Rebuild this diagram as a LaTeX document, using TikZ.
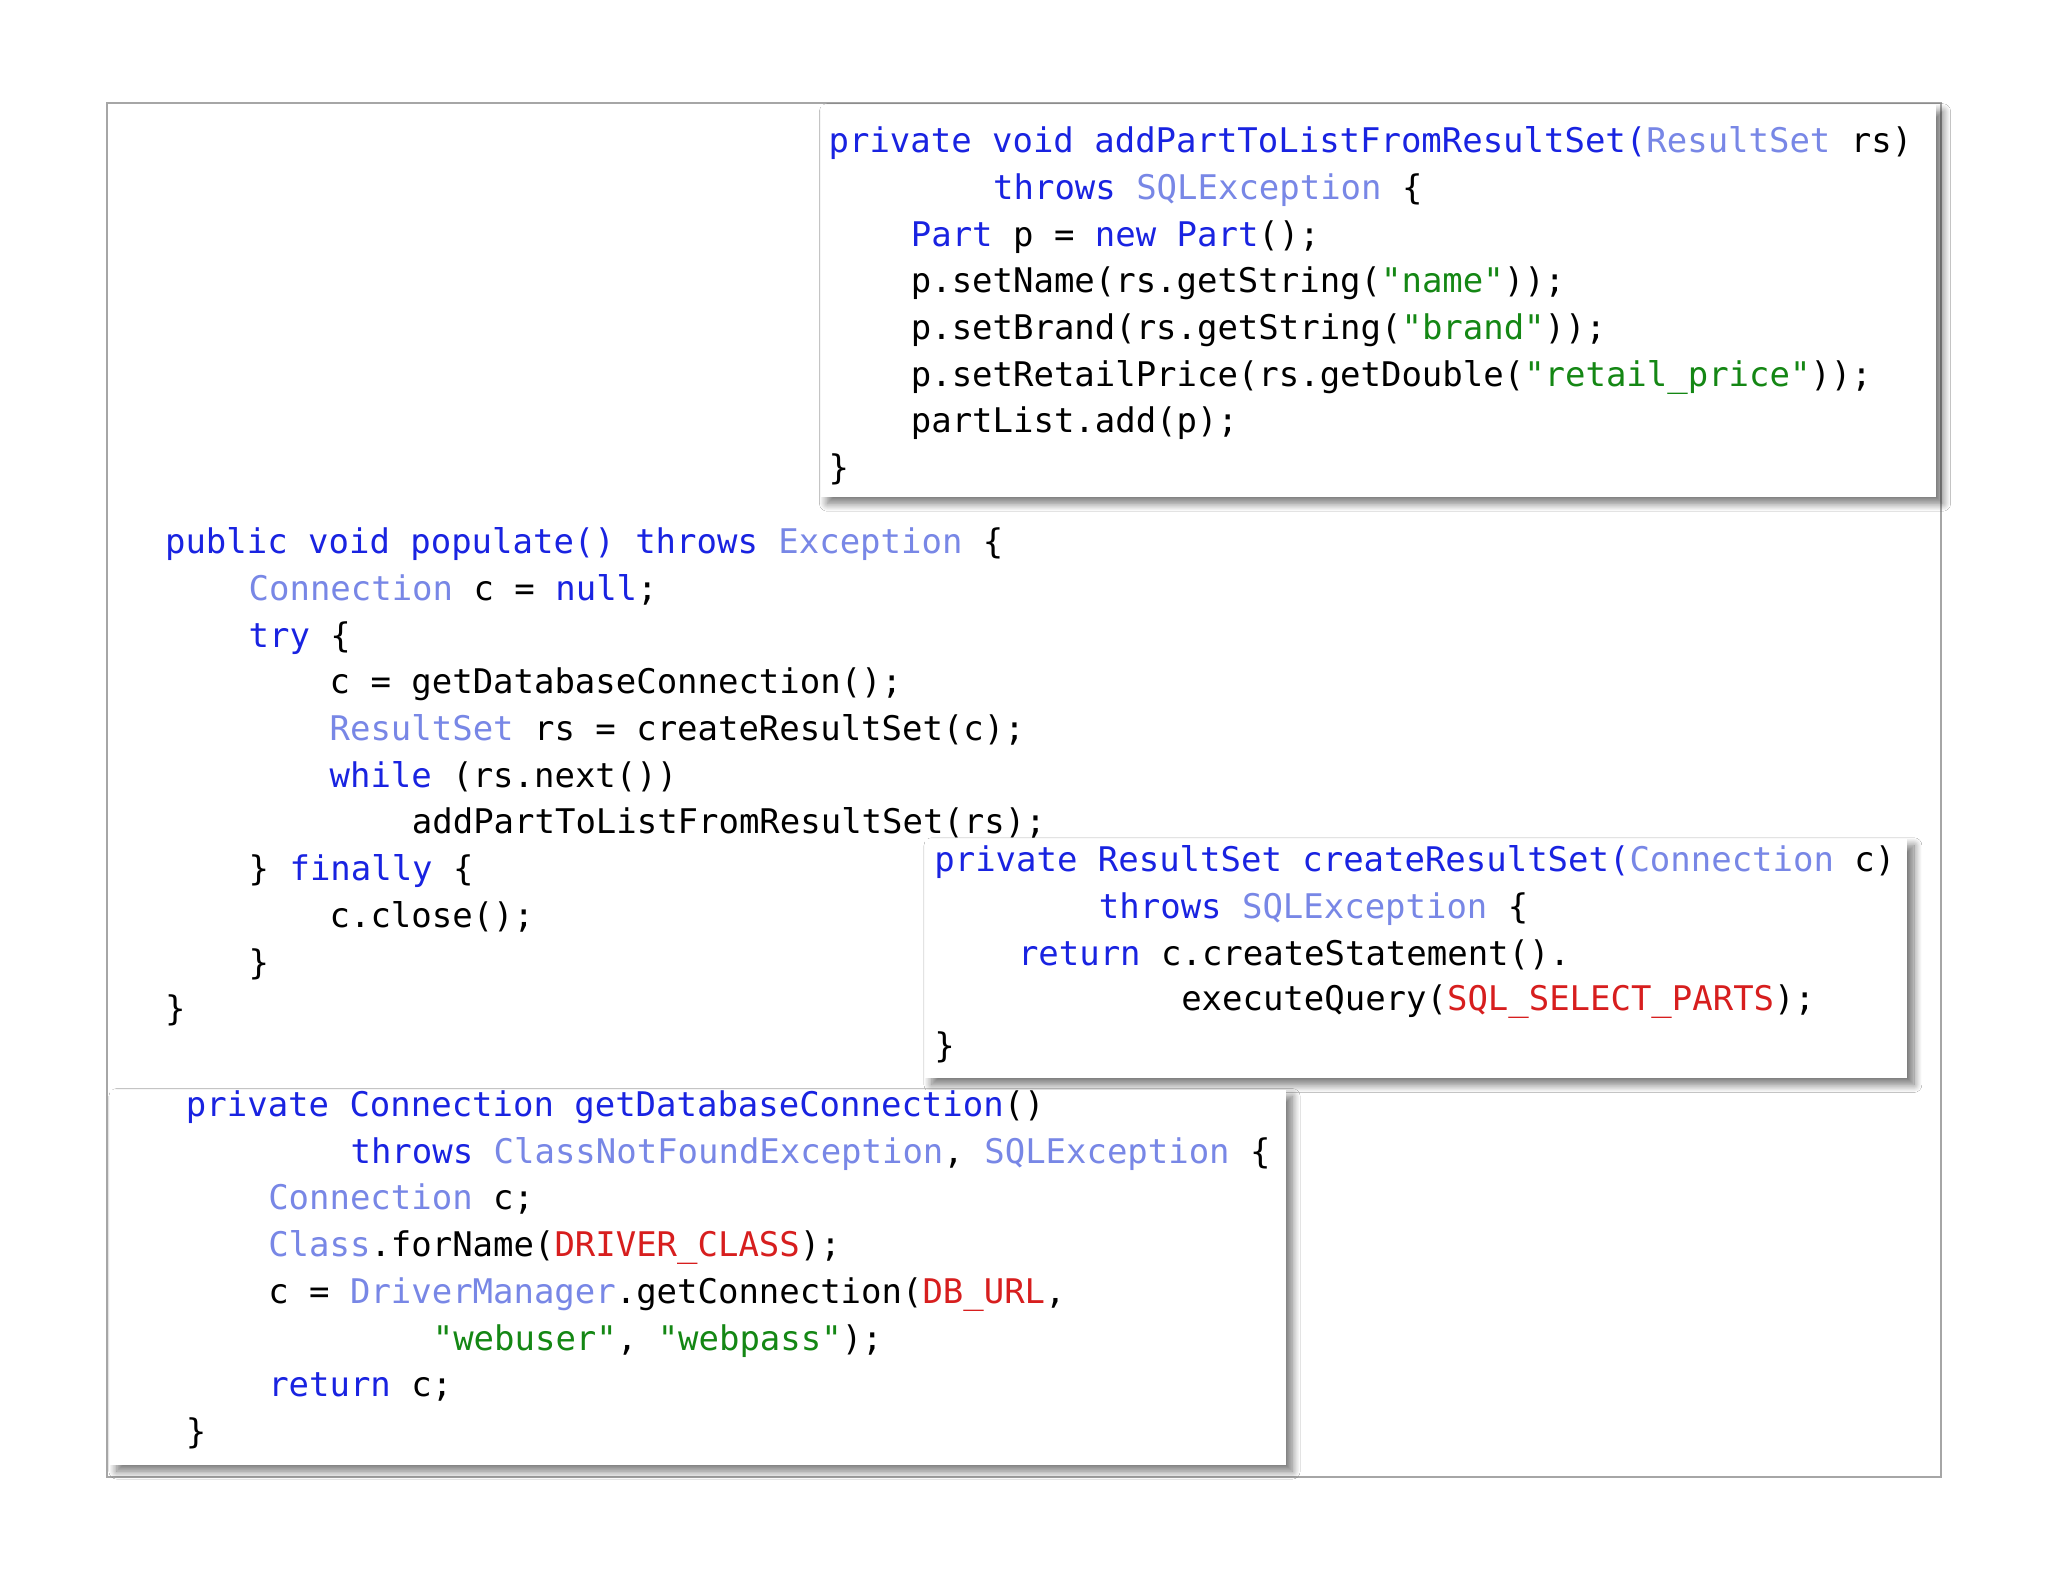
\documentclass[tikz,border=0pt]{standalone}
\usepackage{fontspec}
\usetikzlibrary{shadows.blur}
\newfontfamily\codefont{DejaVu Sans Mono}
\definecolor{kwc}{RGB}{25,35,225}
\definecolor{tyc}{RGB}{120,135,230}
\definecolor{stc}{RGB}{20,135,20}
\definecolor{cnc}{RGB}{215,30,30}
\newcommand{\kw}[1]{\textcolor{kwc}{#1}}
\newcommand{\ty}[1]{\textcolor{tyc}{#1}}
\newcommand{\st}[1]{\textcolor{stc}{#1}}
\newcommand{\cn}[1]{\textcolor{cnc}{#1}}
\begin{document}
\begin{tikzpicture}[x=0.5pt,y=-0.5pt,
  cl/.style={anchor=base west,inner sep=0pt,font=\codefont\fontsize{13}{16}\selectfont},
  codebox/.style={fill=white,draw=none,blur shadow={shadow xshift=2.5pt,shadow yshift=-2.5pt,shadow blur radius=3pt,shadow blur steps=12,shadow opacity=55}}]
\useasboundingbox (0,0) rectangle (1568,1211);
\fill[white] (0,0) rectangle (1568,1211);
\draw[gray!70,line width=0.6pt] (82,79) rectangle (1486,1131);
% populate
\node[cl] (p1) at (126,424) {\kw{public void populate() throws} \ty{Exception} \{};
\node[cl] (p2) at (190,460) {\ty{Connection} c = \kw{null};};
\node[cl] (p3) at (190,496) {\kw{try} \{};
\node[cl] (p4) at (252,531) {c = getDatabaseConnection();};
\node[cl] (p5) at (252,567) {\ty{ResultSet} rs = createResultSet(c);};
\node[cl] (p6) at (252,603) {\kw{while} (rs.next())};
\node[cl] (p7) at (315,638) {addPartToListFromResultSet(rs);};
\node[cl] (p8) at (190,674) {\} \kw{finally} \{};
\node[cl] (p9) at (252,710) {c.close();};
\node[cl] (p10) at (190,746) {\}};
\node[cl] (p11) at (126,781) {\}};
% top box
\node[codebox,minimum width=854*0.5pt,minimum height=300*0.5pt,anchor=north west] (b1) at (628,80) {};
\node[cl] (t1) at (634,117) {\kw{private void addPartToListFromResultSet(}\ty{ResultSet} rs)};
\node[cl] (t2) at (760,153) {\kw{throws} \ty{SQLException} \{};
\node[cl] (t3) at (697,189) {\kw{Part} p = \kw{new Part}();};
\node[cl] (t4) at (697,224) {p.setName(rs.getString(\st{"name"}));};
\node[cl] (t5) at (697,260) {p.setBrand(rs.getString(\st{"brand"}));};
\node[cl] (t6) at (697,296) {p.setRetailPrice(rs.getDouble(\st{"retail\_price"}));};
\node[cl] (t7) at (697,331) {partList.add(p);};
\node[cl] (t8) at (634,367) {\}};
% middle box
\node[codebox,minimum width=752*0.5pt,minimum height=183*0.5pt,anchor=north west] (b2) at (708,642) {};
\node[cl] (m1) at (715,667) {\kw{private ResultSet createResultSet(}\ty{Connection} c)};
\node[cl] (m2) at (841,703) {\kw{throws} \ty{SQLException} \{};
\node[cl] (m3) at (779,739) {\kw{return} c.createStatement().};
\node[cl] (m4) at (904,774) {executeQuery(\cn{SQL\_SELECT\_PARTS});};
\node[cl] (m5) at (715,810) {\}};
% bottom box
\node[codebox,minimum width=900*0.5pt,minimum height=287*0.5pt,anchor=north west] (b3) at (84,834) {};
\node[cl] (g1) at (142,855) {\kw{private Connection getDatabaseConnection}()};
\node[cl] (g2) at (268,891) {\kw{throws} \ty{ClassNotFoundException}, \ty{SQLException} \{};
\node[cl] (g3) at (205,926) {\ty{Connection} c;};
\node[cl] (g4) at (205,962) {\ty{Class}.forName(\cn{DRIVER\_CLASS});};
\node[cl] (g5) at (205,998) {c = \ty{DriverManager}.getConnection(\cn{DB\_URL},};
\node[cl] (g6) at (331,1034) {\st{"webuser"}, \st{"webpass"});};
\node[cl] (g7) at (205,1069) {\kw{return} c;};
\node[cl] (g8) at (142,1105) {\}};
\end{tikzpicture}
\end{document}
